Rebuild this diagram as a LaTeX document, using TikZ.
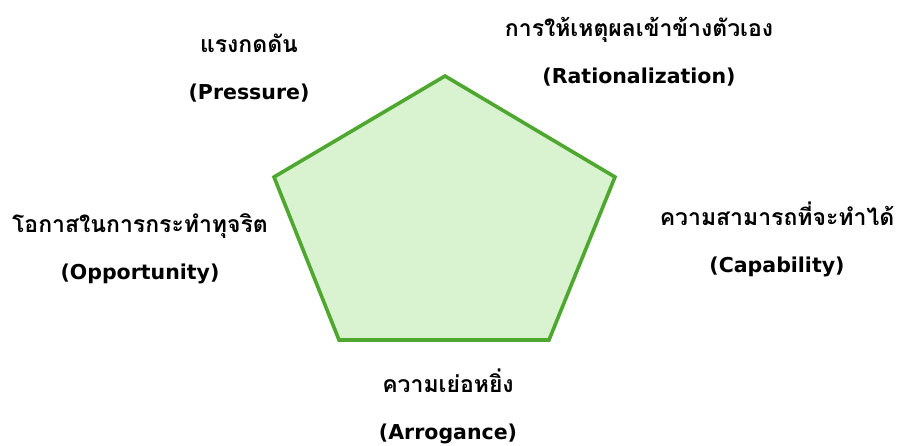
\documentclass[tikz,border=0pt]{standalone}
\usepackage{fontspec}
\newfontfamily\thaifont[Script=Thai]{Loma}
\newfontfamily\latinfont{DejaVu Sans}
\usepackage{tikz}
\definecolor{fraudgreen}{RGB}{78,167,46}
\definecolor{fraudfill}{RGB}{217,242,208}
\newcommand{\en}[1]{{\latinfont\bfseries\fontsize{20.5}{47}\selectfont #1}}

\begin{document}
\begin{tikzpicture}[x=1pt, y=1pt,
    corner/.style={align=center, font=\thaifont\bfseries\fontsize{23}{47}\selectfont, text=black}]
    \useasboundingbox (0,0) rectangle (899,445);

    % Fraud pentagon
    \draw[line width=3.6pt, fraudgreen, fill=fraudfill, line join=miter]
        (445,369) -- (615,268) -- (549,105) -- (339,105) -- (274,268) -- cycle;

    % Corner labels
    \node[corner] (pressure) at (249,377) {แรงกดดัน\\\en{(Pressure)}};
    \node[corner] (rational) at (639,393) {การให้เหตุผลเข้าข้างตัวเอง\\\en{(Rationalization)}};
    \node[corner] (capable) at (777,206) {ความสามารถที่จะทำได้\\\en{(Capability)}};
    \node[corner] (arrogance) at (448,39) {ความเย่อหยิ่ง\\\en{(Arrogance)}};
    \node[corner] (opportunity) at (140,196) {โอกาสในการกระทำทุจริต\\\en{(Opportunity)}};
\end{tikzpicture}
\end{document}
